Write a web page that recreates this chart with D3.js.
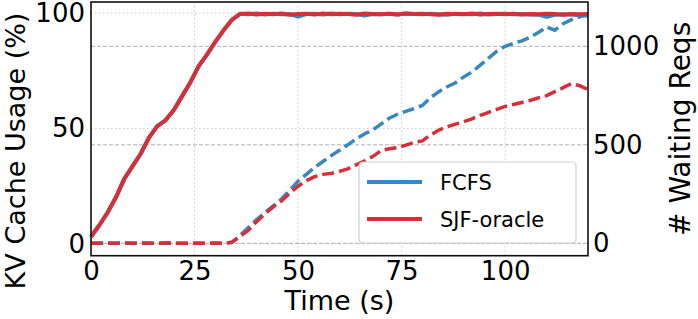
<!DOCTYPE html>
<html>
<head>
<meta charset="utf-8">
<script src="https://cdn.jsdelivr.net/npm/d3@7"></script>
<style>
  body { margin: 0; background: #fff; }
  svg { display: block; font-family: 'DejaVu Sans', sans-serif; }
</style>
</head>
<body>
<svg id="chart" width="698" height="319"></svg>
<script>
// time axis, one sample every 2 s
const times = d3.range(0, 121, 2)

const seriesNames = ['FCFS', 'SJF-oracle']

// KV cache usage (%)
const kvFcfs = [3, 8, 13.5, 20, 28, 33.5, 39, 46, 51, 53.5, 58, 64, 70, 77, 82, 87.5, 92.5, 97,
  99.7, 99.5, 99.8, 99.4, 99.7, 99.5, 99.6, 98.5, 99.6, 99.7, 99.4, 99.8, 99.5, 99.7, 99.6, 98.9,
  99.6, 99.5, 99.7, 99.4, 99.8, 99.6, 99.5, 99.7, 99.5, 99.3, 99.7, 99.6, 99.5, 99.8, 99.4, 99.6,
  99.7, 99.5, 99.6, 99.4, 99.3, 98.4, 99.3, 99.5, 99.4, 99.1, 98.8]
const kvSjf = [3, 8, 13.5, 20, 28, 33.5, 39, 46, 51, 53.5, 58, 64, 70, 77, 82, 87.5, 92.5, 97,
  99.6, 99.8, 99.4, 99.7, 99.5, 99.8, 99.3, 99.6, 99.7, 99.4, 99.8, 99.5, 99.7, 99.6, 99.3, 99.8,
  99.6, 99.5, 99.7, 99.4, 99.8, 99.6, 99.7, 99.5, 99.3, 99.7, 99.6, 99.5, 99.8, 99.4, 99.6, 99.7,
  99.5, 99.7, 99.4, 99.6, 99.5, 99.7, 99.6, 99.3, 99.6, 99.5, 99.6]

// number of waiting requests
const waitFcfs = [0, 0, 2, 0, 1, 0, 0, 2, 0, 0, 1, 0, 0, 2, 0, 0, 0, 5,
  40, 80, 120, 155, 190, 225, 270, 315, 350, 385, 415, 445, 472, 500, 530, 555, 575, 605, 635,
  655, 670, 684, 700, 740, 770, 795, 815, 845, 870, 905, 940, 975, 1000, 1015, 1028, 1045, 1070,
  1098, 1082, 1115, 1135, 1150, 1165]
const waitSjf = [0, 1, 0, 0, 2, 0, 1, 0, 0, 3, 0, 0, 1, 0, 0, 2, 0, 5,
  35, 66, 110, 150, 185, 215, 255, 290, 318, 338, 350, 355, 365, 378, 398, 418, 440, 470, 480,
  486, 498, 512, 520, 550, 575, 592, 605, 617, 632, 650, 665, 680, 695, 705, 715, 725, 738,
  750, 770, 790, 811, 800, 780]

const xTicks = [0, 25, 50, 75, 100]
const leftTicks = [0, 50, 100]
const rightTicks = [0, 500, 1000]

const colors = ['#3787c0', '#d62f37']

const svg = d3.select('#chart')
const plotL = 91, plotR = 588, plotT = 2, plotB = 255.7

const x = d3.scaleLinear().domain([0, 120]).range([plotL, plotR])
const yL = d3.scaleLinear().domain([-5.2, 104.8]).range([plotB, plotT])
const yR = d3.scaleLinear().domain([-63, 1225]).range([plotB, plotT])

// grids
const grid = svg.append('g')
grid.selectAll('.gx').data(xTicks).join('line')
  .attr('x1', d => x(d)).attr('x2', d => x(d))
  .attr('y1', plotT).attr('y2', plotB)
  .attr('stroke', '#c8c8c8').attr('stroke-width', 1).attr('stroke-dasharray', '1.5,2.5')
grid.selectAll('.gl').data(leftTicks).join('line')
  .attr('x1', plotL).attr('x2', plotR)
  .attr('y1', d => yL(d)).attr('y2', d => yL(d))
  .attr('stroke', '#c8c8c8').attr('stroke-width', 1).attr('stroke-dasharray', '1.5,2.5')
grid.selectAll('.gr').data(rightTicks).join('line')
  .attr('x1', plotL).attr('x2', plotR)
  .attr('y1', d => yR(d)).attr('y2', d => yR(d))
  .attr('stroke', '#b0b0b0').attr('stroke-width', 1).attr('stroke-dasharray', '4,2')

const plot = svg.append('g')

const kvLine = d3.line().x((d, i) => x(times[i])).y(d => yL(d))
const waitLine = d3.line().x((d, i) => x(times[i])).y(d => yR(d))

const kvData = [kvFcfs, kvSjf]
const waitData = [waitFcfs, waitSjf]

waitData.forEach((s, k) => {
  plot.append('path').datum(s)
    .attr('d', waitLine)
    .attr('fill', 'none')
    .attr('stroke', colors[k])
    .attr('stroke-width', 3.5)
    .attr('stroke-dasharray', '12,5')
})
kvData.forEach((s, k) => {
  plot.append('path').datum(s)
    .attr('d', kvLine)
    .attr('fill', 'none')
    .attr('stroke', colors[k])
    .attr('stroke-width', 4)
    .attr('stroke-linejoin', 'round')
})

// frame
svg.append('rect')
  .attr('x', plotL).attr('y', plotT)
  .attr('width', plotR - plotL).attr('height', plotB - plotT)
  .attr('fill', 'none').attr('stroke', '#111').attr('stroke-width', 1.6)

// axes (tick marks hidden, labels only)
const xAxis = svg.append('g')
  .attr('transform', `translate(0,${plotB})`)
  .call(d3.axisBottom(x).tickValues(xTicks).tickSize(0).tickPadding(6))
const lAxis = svg.append('g')
  .attr('transform', `translate(${plotL},0)`)
  .call(d3.axisLeft(yL).tickValues(leftTicks).tickSize(0).tickPadding(6))
const rAxis = svg.append('g')
  .attr('transform', `translate(${plotR},0)`)
  .call(d3.axisRight(yR).tickValues(rightTicks).tickFormat(d3.format('d')).tickSize(0).tickPadding(5))

;[xAxis, lAxis, rAxis].forEach(a => {
  a.select('.domain').remove()
  a.selectAll('text')
    .attr('font-family', 'DejaVu Sans')
    .attr('font-size', 26)
    .attr('fill', '#000')
})

// axis labels
svg.append('text')
  .attr('x', (plotL + plotR) / 2).attr('y', 310)
  .attr('text-anchor', 'middle')
  .attr('font-size', 27).attr('fill', '#000')
  .text('Time (s)')
svg.append('text')
  .attr('transform', `translate(25,151) rotate(-90)`)
  .attr('text-anchor', 'middle')
  .attr('font-size', 27).attr('fill', '#000')
  .text('KV Cache Usage (%)')
svg.append('text')
  .attr('transform', `translate(690,${(plotT + plotB) / 2}) rotate(-90)`)
  .attr('text-anchor', 'middle')
  .attr('font-size', 28).attr('fill', '#000')
  .text('# Waiting Reqs')

// legend
const legend = svg.append('g')
legend.append('rect')
  .attr('x', 359).attr('y', 162)
  .attr('width', 217).attr('height', 81)
  .attr('rx', 4)
  .attr('fill', 'rgba(255,255,255,0.8)')
  .attr('stroke', '#d0d0d0').attr('stroke-width', 1.2)
seriesNames.forEach((name, k) => {
  const ly = 182 + k * 37
  legend.append('line')
    .attr('x1', 367).attr('x2', 422)
    .attr('y1', ly).attr('y2', ly)
    .attr('stroke', colors[k]).attr('stroke-width', 4)
  legend.append('text')
    .attr('x', 440).attr('y', ly)
    .attr('dy', '0.36em')
    .attr('font-size', 21).attr('fill', '#000')
    .text(name)
})
</script>
</body>
</html>
